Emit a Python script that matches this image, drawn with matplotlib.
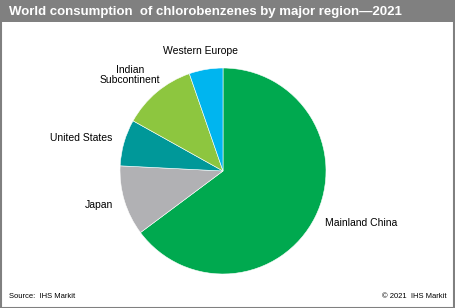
import matplotlib.pyplot as plt
from matplotlib.patches import Rectangle

plt.rcParams['font.family'] = ['Liberation Sans', 'DejaVu Sans']

regions = ['Mainland China', 'Japan', 'United States', 'Indian\nSubcontinent', 'Western Europe']
shares = [64.8, 11.0, 7.3, 11.6, 5.3]
colors = ['#00A94F', '#B1B1B4', '#009899', '#8DC63F', '#00B5EF']

W, H = 455, 308
fig = plt.figure(figsize=(W / 100, H / 100), dpi=100)

# pie axes: center at (223, 171) px, radius 103 px
cx, cy, r = 223, 171, 103
lim = 1.4
side = 2 * lim * r
ax = fig.add_axes([(cx - side / 2) / W, (H - cy - side / 2) / H, side / W, side / H])
ax.pie(shares, colors=colors, startangle=90, counterclock=False,
       wedgeprops=dict(edgecolor='white', linewidth=0.4))
ax.set_xlim(-lim, lim)
ax.set_ylim(-lim, lim)
ax.axis('off')

lab = dict(fontsize=7.5, color='black', va='center')
ax.text(-0.214, 1.165, regions[4], ha='center', **lab)
ax.text(-0.90, 0.93, regions[3], ha='center', linespacing=1.0, **lab)
ax.text(-1.078, 0.32, regions[2], ha='right', **lab)
ax.text(-1.068, -0.33, regions[1], ha='right', **lab)
ax.text(0.99, -0.505, regions[0], ha='left', **lab)

# title bar and frame
fig.patches.append(Rectangle((0, 1 - 22 / H), 1, 22 / H, transform=fig.transFigure,
                             facecolor='#808080', edgecolor='none', zorder=0))
fig.patches.append(Rectangle((0.5 / W, 0.5 / H), 1 - 1.5 / W, 1 - 1.5 / H, transform=fig.transFigure,
                             facecolor='none', edgecolor='#808080', linewidth=1.5, zorder=5))
fig.text(9 / W, 1 - 12 / H, 'World consumption  of chlorobenzenes by major region\u20142021',
         color='white', fontsize=9.5, fontweight='bold', va='center', ha='left')

fig.text(9 / W, 1 - 296 / H, 'Source:  IHS Markit', fontsize=5.5, va='center', ha='left')
fig.text(447 / W, 1 - 296 / H, '\u00a9 2021  IHS Markit', fontsize=5.5, va='center', ha='right')

fig.savefig('out.png', dpi=100)
